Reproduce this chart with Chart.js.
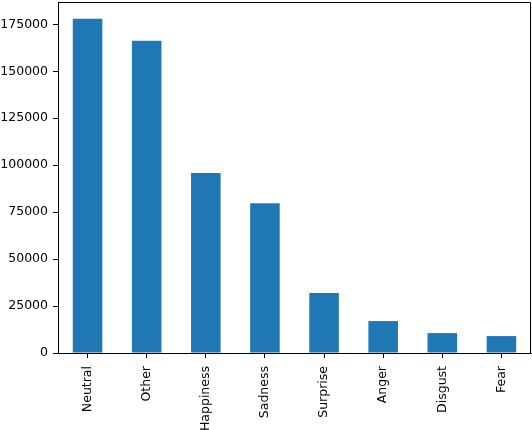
<!DOCTYPE html>
<html>
<head>
<meta charset="utf-8">
<script src="https://cdn.jsdelivr.net/npm/chart.js@4"></script>
<style>
  html, body { margin: 0; padding: 0; background: #fff; }
  canvas { display: block; }
</style>
</head>
<body>
<canvas id="barChart" width="532" height="430"></canvas>
<script>
// Emotion counts
const categories = ['Neutral', 'Other', 'Happiness', 'Sadness', 'Surprise', 'Anger', 'Disgust', 'Fear'];
const counts = [178000, 166300, 95800, 79700, 31900, 17000, 10600, 9000];
const yTicks = [0, 25000, 50000, 75000, 100000, 125000, 150000, 175000];
const yMax = 186900;

// draw the top and right spines like matplotlib
const frameBox = {
  id: 'frameBox',
  afterDraw(chart) {
    const a = chart.chartArea;
    const ctx = chart.ctx;
    ctx.save();
    ctx.strokeStyle = '#000';
    ctx.lineWidth = 1;
    ctx.beginPath();
    ctx.moveTo(Math.round(a.left) + 0.5, Math.round(a.top) + 0.5);
    ctx.lineTo(Math.round(a.right) - 0.5, Math.round(a.top) + 0.5);
    ctx.lineTo(Math.round(a.right) - 0.5, Math.round(a.bottom));
    ctx.stroke();
    ctx.restore();
  }
};

const tickFont = { family: 'DejaVu Sans', size: 12.5 };

new Chart(document.getElementById('barChart').getContext('2d'), {
  type: 'bar',
  data: {
    labels: categories,
    datasets: [{
      data: counts,
      backgroundColor: '#1f77b4',
      borderWidth: 0,
      inflateAmount: 0,
      categoryPercentage: 0.5,
      barPercentage: 1.0
    }]
  },
  options: {
    responsive: false,
    animation: false,
    layout: { padding: { top: 2, right: 1, left: 0, bottom: 0 } },
    plugins: {
      legend: { display: false },
      tooltip: { enabled: false }
    },
    scales: {
      x: {
        offset: true,
        grid: { display: true, drawOnChartArea: false, tickLength: 5, tickColor: '#000', offset: false },
        border: { display: true, color: '#000', width: 1 },
        ticks: {
          autoSkip: false,
          minRotation: 90,
          maxRotation: 90,
          padding: 8,
          color: '#000',
          font: tickFont
        },
        afterFit(scale) {
          scale.height = 77;
          scale.paddingLeft = 0;
          scale.paddingRight = 0;
        }
      },
      y: {
        min: 0,
        max: yMax,
        afterBuildTicks(scale) { scale.ticks = yTicks.map(v => ({ value: v })); },
        grid: { display: true, drawOnChartArea: false, tickLength: 5, tickColor: '#000' },
        border: { display: true, color: '#000', width: 1 },
        ticks: {
          padding: 5,
          color: '#000',
          font: tickFont,
          callback: v => String(v)
        },
        afterFit(scale) {
          scale.width = 58;
          scale.paddingTop = 0;
          scale.paddingBottom = 0;
        }
      }
    }
  },
  plugins: [frameBox]
});
</script>
</body>
</html>
